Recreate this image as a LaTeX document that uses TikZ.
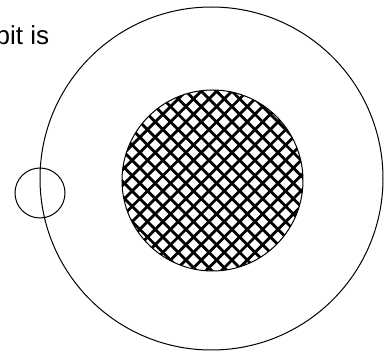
\documentclass[tikz,border=0pt]{standalone}
\usepackage{fontspec}
\setmainfont{Liberation Sans}
\begin{document}
\begin{tikzpicture}[x=1pt,y=-1pt,
  outline/.style={draw=black,line width=1pt},
  hatchline/.style={draw=black,line width=2.8pt},
  label/.style={inner sep=0pt,anchor=base west,font=\fontsize{26}{30}\selectfont}]
\useasboundingbox (0,0) rectangle (384,353);
\clip (0,0) rectangle (384,353);
\node[label] (txt) at (-4.5,45) {bit is};
\coordinate (bigc) at (211.5,178.5);
\coordinate (hc) at (212.5,180.5);
\coordinate (sc) at (40,193);
\draw[outline] (bigc) circle (171.5);
\begin{scope}
  \clip (hc) circle (90.5);
  \foreach \k in {-15,...,20} {
    \draw[hatchline] ({-58.8+\k*15.35+40},40) -- ++(260,260);
    \draw[hatchline] ({307.8+\k*15.35-40},40) -- ++(-260,260);
  }
\end{scope}
\draw[outline] (hc) circle (90.5);
\draw[outline] (sc) circle (25);
\end{tikzpicture}
\end{document}
